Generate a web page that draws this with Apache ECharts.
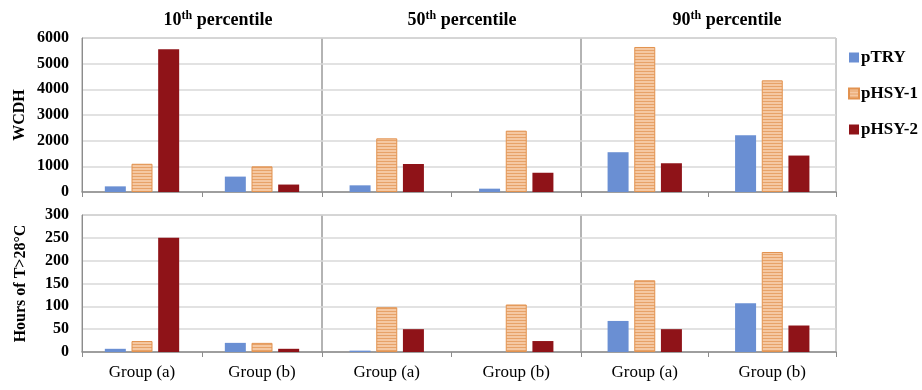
<!DOCTYPE html>
<html>
<head>
<meta charset="utf-8">
<script src="https://cdn.jsdelivr.net/npm/echarts@6/dist/echarts.min.js"></script>
<style>html,body{margin:0;padding:0;background:#fff}#c{width:922px;height:390px}</style>
</head>
<body>
<div id="c"></div>
<script>
// ---- data ----
const groups = ['Group (a)', 'Group (b)'];
const percentiles = ['10', '50', '90'];
const seriesNames = ['pTRY', 'pHSY-1', 'pHSY-2'];
// values ordered: [10th a, 10th b, 50th a, 50th b, 90th a, 90th b]
const wcdh_pTRY  = [220, 600, 260, 130, 1550, 2210];
const wcdh_pHSY1 = [1100, 1000, 2090, 2390, 5650, 4350];
const wcdh_pHSY2 = [5560, 290, 1090, 750, 1120, 1420];
const hrs_pTRY  = [7, 20, 3, 0, 68, 107];
const hrs_pHSY1 = [24, 20, 98, 104, 157, 219];
const hrs_pHSY2 = [250, 7, 50, 24, 50, 58];
const wcdhTicks = [0, 6000, 1000];
const hrsTicks = [0, 300, 50];

// ---- styles ----
const FONT = '"Liberation Serif", "Times New Roman", serif';
const BLUE = '#6a8fd3';
const RED = '#8f1318';
const ORANGE_BORDER = '#e2924f';
const pc = document.createElement('canvas');
pc.width = 6; pc.height = 3;
const pctx = pc.getContext('2d');
pctx.fillStyle = '#f5c8a2'; pctx.fillRect(0, 0, 6, 3);
pctx.fillStyle = '#e7a268'; pctx.fillRect(0, 2, 6, 1);
const ORANGE = { image: pc, repeat: 'repeat' };
const colors = [BLUE, ORANGE, RED];

const cols = [[82, 322], [322, 581], [581, 836]];
const rows = [[38, 192], [215, 352]];

const grids = [], xAxes = [], yAxes = [], series = [];
const rowData = [[wcdh_pTRY, wcdh_pHSY1, wcdh_pHSY2], [hrs_pTRY, hrs_pHSY1, hrs_pHSY2]];
const rowTicks = [wcdhTicks, hrsTicks];
const rowNames = ['WCDH', 'Hours of T>28°C'];

rows.forEach((r, ri) => {
  cols.forEach((c, ci) => {
    const gi = grids.length;
    grids.push({ left: c[0], width: c[1] - c[0], top: r[0], height: r[1] - r[0],
      show: true, borderColor: '#9a9a9a', borderWidth: 1, containLabel: false });
    xAxes.push({ type: 'category', gridIndex: gi, data: groups,
      axisLine: { lineStyle: { color: '#8c8c8c', width: 1.5 } },
      axisTick: { show: true, length: 5, lineStyle: { color: '#8c8c8c' } },
      axisLabel: { show: ri === 1, fontFamily: FONT, fontSize: 17, color: '#000', margin: 12 } });
    yAxes.push({ type: 'value', gridIndex: gi, min: rowTicks[ri][0], max: rowTicks[ri][1], interval: rowTicks[ri][2],
      axisLine: { show: ci === 0, lineStyle: { color: '#8c8c8c' } },
      axisTick: { show: false },
      axisLabel: { show: ci === 0, fontFamily: FONT, fontWeight: 'bold', fontSize: 16, color: '#000', margin: 13,
        formatter: v => String(v) },
      splitLine: { lineStyle: { color: '#d9d9d9', width: 1.5 } },
      name: ci === 0 ? rowNames[ri] : '', nameLocation: 'middle', nameGap: ri === 0 ? 54 : 53, nameRotate: 90,
      nameTextStyle: { fontFamily: FONT, fontWeight: 'bold', fontSize: 16, color: '#000' } });
    seriesNames.forEach((sn, si) => {
      series.push({ type: 'bar', name: sn, xAxisIndex: gi, yAxisIndex: gi,
        data: rowData[ri][si].slice(ci * 2, ci * 2 + 2),
        barWidth: 21, barGap: '27%',
        itemStyle: si === 1 ? { color: ORANGE, borderColor: ORANGE_BORDER, borderWidth: 1 } : { color: colors[si] },
        emphasis: { disabled: true } });
    });
  });
});

const titleX = [213, 457, 722];
const titles = percentiles.map((p, i) => ({
  text: '{n|' + p + '}{s|th}{n| percentile}',
  left: titleX[i], top: 4, textAlign: 'center',
  textStyle: { rich: {
    n: { fontFamily: FONT, fontWeight: 'bold', fontSize: 18, color: '#000', lineHeight: 22 },
    s: { fontFamily: FONT, fontWeight: 'bold', fontSize: 12, color: '#000', padding: [0, 0, 8, 0] }
  } }
}));

const chart = echarts.init(document.getElementById('c'), null, { renderer: 'canvas' });
chart.setOption({
  animation: false,
  backgroundColor: '#fff',
  title: titles,
  legend: { orient: 'vertical', left: 843, top: 44, itemWidth: 10, itemHeight: 10, itemGap: 19,
    data: seriesNames, icon: 'rect',
    textStyle: { fontFamily: FONT, fontWeight: 'bold', fontSize: 17, color: '#000', padding: [0, 0, 0, -3] } },
  grid: grids, xAxis: xAxes, yAxis: yAxes, series: series
});
</script>
</body>
</html>
